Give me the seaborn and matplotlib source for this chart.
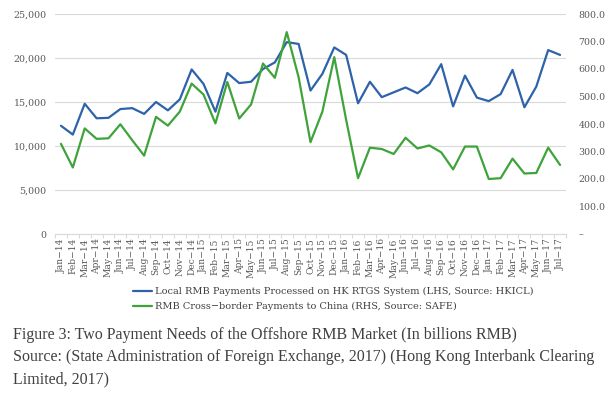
import matplotlib
matplotlib.use("Agg")
import matplotlib.pyplot as plt
import seaborn as sns
import pandas as pd
import numpy as np
from matplotlib.ticker import FixedLocator, FuncFormatter

months = ["Jan-14","Feb-14","Mar-14","Apr-14","May-14","Jun-14","Jul-14","Aug-14","Sep-14","Oct-14","Nov-14","Dec-14",
          "Jan-15","Feb-15","Mar-15","Apr-15","May-15","Jun-15","Jul-15","Aug-15","Sep-15","Oct-15","Nov-15","Dec-15",
          "Jan-16","Feb-16","Mar-16","Apr-16","May-16","Jun-16","Jul-16","Aug-16","Sep-16","Oct-16","Nov-16","Dec-16",
          "Jan-17","Feb-17","Mar-17","Apr-17","May-17","Jun-17","Jul-17"]

local_rtgs = [12300, 11300, 14800, 13150, 13200, 14200, 14300, 13650, 15000, 14050, 15300, 18700,
              17050, 13900, 18300, 17150, 17300, 18750, 19500, 21800, 21600, 16300, 18200, 21200,
              20350, 14850, 17300, 15550, 16100, 16650, 16000, 17000, 19300, 14500, 18000, 15500,
              15100, 15900, 18650, 14400, 16750, 20900, 20350]

cross_border = [328, 242, 384, 346, 348, 399, 341, 285, 426, 394, 445, 547,
                507, 402, 553, 420, 471, 620, 568, 734, 570, 334, 445, 643,
                415, 203, 314, 309, 291, 350, 311, 322, 297, 235, 318, 318,
                200, 203, 274, 220, 222, 314, 251]

label_local = "Local RMB Payments Processed on HK RTGS System (LHS, Source: HKICL)"
label_cross = "RMB Cross\u2212border Payments to China (RHS, Source: SAFE)"
caption = ("Figure 3: Two Payment Needs of the Offshore RMB Market (In billions RMB)\n"
           "Source: (State Administration of Foreign Exchange, 2017) (Hong Kong Interbank Clearing\n"
           "Limited, 2017)")

df = pd.DataFrame({"idx": np.arange(len(months)), "local": local_rtgs, "cross": cross_border})

sns.set_theme(style="white")
plt.rcParams["font.family"] = ["DejaVu Serif", "DejaVu Sans"]

blue = "#2E62A9"
green = "#3FA33C"
tick_col = "#595959"

fig = plt.figure(figsize=(6.14, 3.94), dpi=100)
ax = fig.add_axes([55/614, 1-234/394, (566-55)/614, (234-14)/394])
ax2 = ax.twinx()

sns.lineplot(data=df, x="idx", y="local", ax=ax, color=blue, linewidth=1.6, label=label_local, legend=False)
sns.lineplot(data=df, x="idx", y="cross", ax=ax2, color=green, linewidth=1.6, label=label_cross, legend=False)

ax.set_xlim(-0.5, len(months)-0.5)
ax.set_ylim(0, 25000)
ax2.set_ylim(0, 800)
ax.set_yticks(np.arange(0, 25001, 5000))
ax.yaxis.set_major_formatter(FuncFormatter(lambda v, p: f"{int(v):,}"))
ax2.set_yticks(np.arange(0, 801, 100))
ax2.yaxis.set_major_formatter(FuncFormatter(lambda v, p: "\u2013" if v == 0 else f"{v:.1f}"))

ax.grid(axis="y", color="#D9D9D9", linewidth=0.8)
ax.set_axisbelow(True)
for a in (ax, ax2):
    for s in ["top", "left", "right"]:
        a.spines[s].set_visible(False)
    a.set_xlabel("")
    a.set_ylabel("")
ax2.spines["bottom"].set_visible(False)
ax.spines["bottom"].set_color("#D9D9D9")
ax.spines["bottom"].set_linewidth(0.8)

ax.set_xticks(np.arange(len(months)))
ax.set_xticklabels([m.replace("-", "\u2212") for m in months], rotation=90, fontsize=6.6, color=tick_col)
ax.xaxis.set_minor_locator(FixedLocator(np.arange(-0.5, len(months), 1)))
ax.tick_params(axis="x", which="major", length=0, pad=3)
ax.tick_params(axis="x", which="minor", length=3, color="#D9D9D9", width=0.8, bottom=True)
ax.tick_params(axis="y", length=0, labelsize=6.8, labelcolor=tick_col, pad=6)
ax2.tick_params(axis="y", length=0, labelsize=6.8, labelcolor=tick_col, pad=9)

h1, l1 = ax.get_legend_handles_labels()
h2, l2 = ax2.get_legend_handles_labels()
leg = fig.legend(h1 + h2, l1 + l2, loc="center", bbox_to_anchor=(333/614, 1-299/394), ncol=1,
                 frameon=False, fontsize=7, handlelength=2.0, handletextpad=0.25, labelspacing=0.6,
                 labelcolor="#404040")
for t in leg.get_texts():
    t.set_ha("left")

fig.text(13/614, 1-327/394, caption, ha="left", va="top", fontsize=11.5, color="#404040",
         family=["Liberation Serif", "DejaVu Serif"], linespacing=1.5)

fig.savefig("out.png", dpi=100, facecolor="white")
